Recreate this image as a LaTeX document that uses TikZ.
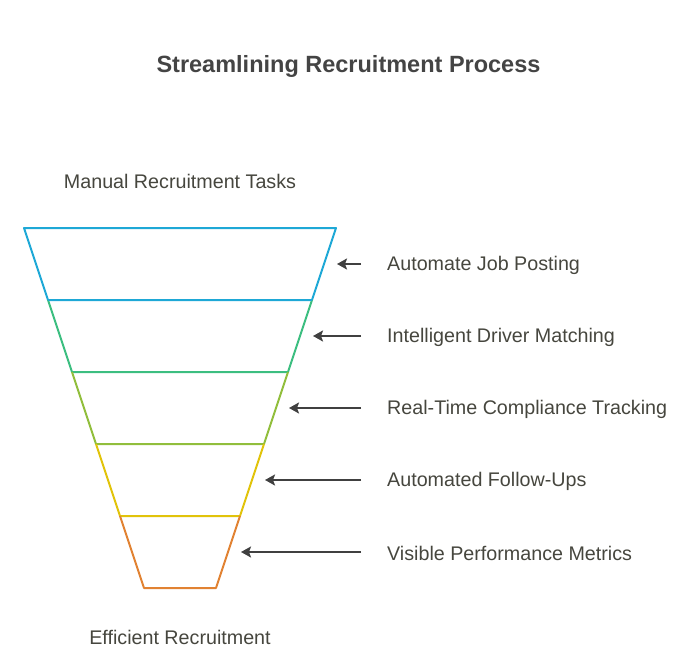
\documentclass[tikz,border=0pt]{standalone}
\usepackage{fontspec}
\setmainfont{Liberation Sans}
\usetikzlibrary{arrows.meta}
\definecolor{cblue}{RGB}{30,168,214}
\definecolor{cgreen}{RGB}{60,190,128}
\definecolor{clime}{RGB}{145,190,60}
\definecolor{cyellow}{RGB}{225,195,10}
\definecolor{corange}{RGB}{225,130,50}
\definecolor{ctext}{RGB}{70,70,62}
\definecolor{ctitle}{RGB}{68,68,68}
\definecolor{carrow}{RGB}{64,64,64}
\tikzset{
  seg/.style={line width=2pt, line join=round},
  lbl/.style={anchor=west, text=ctext, font=\fontsize{19.7}{22}\selectfont, inner sep=0pt},
  endlbl/.style={text=ctext, font=\fontsize{19.7}{22}\selectfont, inner sep=0pt},
  pointer/.style={draw=carrow, line width=2pt, -{Stealth[length=10pt,width=11pt,inset=2pt]}}
}
\begin{document}
\begin{tikzpicture}[x=1pt,y=-1pt]
\useasboundingbox (0,0) rectangle (697,659);
\node[text=ctitle, font=\fontsize{23.5}{26}\selectfont\bfseries, inner sep=0pt] (title) at (348.5,66) {Streamlining Recruitment Process};
\node[endlbl] (top) at (180,181) {Manual Recruitment Tasks};
\node[endlbl] (bottom) at (180,637) {Efficient Recruitment};
% funnel corners
\coordinate (l0) at (24,228);   \coordinate (r0) at (336,228);
\coordinate (l1) at (48,300);   \coordinate (r1) at (312,300);
\coordinate (l2) at (72,372);   \coordinate (r2) at (288,372);
\coordinate (l3) at (96,444);   \coordinate (r3) at (264,444);
\coordinate (l4) at (120,516);  \coordinate (r4) at (240,516);
\coordinate (l5) at (144,588);  \coordinate (r5) at (216,588);
\draw[seg, cblue] (l1) -- (l0) -- (r0) -- (r1) -- cycle;
\draw[seg, cgreen] (l1) -- (l2) -- (r2) -- (r1);
\draw[seg, clime] (l2) -- (l3) -- (r3) -- (r2);
\draw[seg, cyellow] (l3) -- (l4) -- (r4) -- (r3);
\draw[seg, corange] (l4) -- (l5) -- (r5) -- (r4);
\draw[seg, cblue] (l1) -- (r1);
% labels and pointers
\foreach \i/\y/\t/\txt in {1/264/337/Automate Job Posting,
                           2/336/313/Intelligent Driver Matching,
                           3/408/289/Real-Time Compliance Tracking,
                           4/480/265/Automated Follow-Ups,
                           5/552/241/Visible Performance Metrics}{
  \node[lbl] (s\i) at (387,\y+1) {\txt};
  \coordinate (a\i) at (361,\y);
  \coordinate (b\i) at (\t,\y);
  \draw[pointer] (a\i) -- (b\i);
}
\end{tikzpicture}
\end{document}
